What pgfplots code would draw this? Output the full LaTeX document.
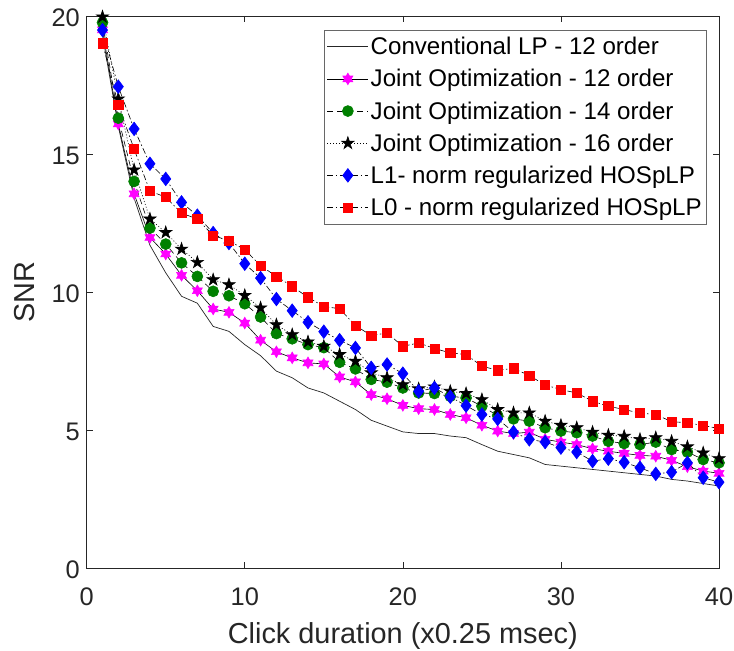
\documentclass[border=0pt]{standalone}
\usepackage{fontspec}
\setmainfont{Liberation Sans}
\usepackage{pgfplots}
\pgfplotsset{compat=1.18}
\usetikzlibrary{plotmarks}

\pgfdeclareplotmark{hexagram}{%
 \pgfpathmoveto{\pgfpointpolar{90}{\pgfplotmarksize}}%
 \pgfpathlineto{\pgfpointpolar{120}{0.577\pgfplotmarksize}}%
 \pgfpathlineto{\pgfpointpolar{150}{\pgfplotmarksize}}%
 \pgfpathlineto{\pgfpointpolar{180}{0.577\pgfplotmarksize}}%
 \pgfpathlineto{\pgfpointpolar{210}{\pgfplotmarksize}}%
 \pgfpathlineto{\pgfpointpolar{240}{0.577\pgfplotmarksize}}%
 \pgfpathlineto{\pgfpointpolar{270}{\pgfplotmarksize}}%
 \pgfpathlineto{\pgfpointpolar{300}{0.577\pgfplotmarksize}}%
 \pgfpathlineto{\pgfpointpolar{330}{\pgfplotmarksize}}%
 \pgfpathlineto{\pgfpointpolar{0}{0.577\pgfplotmarksize}}%
 \pgfpathlineto{\pgfpointpolar{30}{\pgfplotmarksize}}%
 \pgfpathlineto{\pgfpointpolar{60}{0.577\pgfplotmarksize}}%
 \pgfpathclose\pgfusepathqfillstroke}
\pgfdeclareplotmark{pentagram}{%
 \pgfpathmoveto{\pgfpointpolar{90}{\pgfplotmarksize}}%
 \pgfpathlineto{\pgfpointpolar{126}{0.382\pgfplotmarksize}}%
 \pgfpathlineto{\pgfpointpolar{162}{\pgfplotmarksize}}%
 \pgfpathlineto{\pgfpointpolar{198}{0.382\pgfplotmarksize}}%
 \pgfpathlineto{\pgfpointpolar{234}{\pgfplotmarksize}}%
 \pgfpathlineto{\pgfpointpolar{270}{0.382\pgfplotmarksize}}%
 \pgfpathlineto{\pgfpointpolar{306}{\pgfplotmarksize}}%
 \pgfpathlineto{\pgfpointpolar{342}{0.382\pgfplotmarksize}}%
 \pgfpathlineto{\pgfpointpolar{18}{\pgfplotmarksize}}%
 \pgfpathlineto{\pgfpointpolar{54}{0.382\pgfplotmarksize}}%
 \pgfpathclose\pgfusepathqfillstroke}

\definecolor{mgreen}{rgb}{0,0.5,0}
\definecolor{mmag}{rgb}{1,0,1}
\definecolor{axgray}{rgb}{0.15,0.15,0.15}

\pgfplotstableread{
x conv j12 j14 j16 lone lzero
1 19.3 19.5 19.76 19.97 19.49 19.01
2 16.0 16.09 16.30 17.0 17.44 16.78
3 13.4 13.56 14.01 14.43 15.91 15.18
4 11.7 11.98 12.32 12.65 14.65 13.66
5 10.7 11.38 11.74 12.16 14.10 13.44
6 9.85 10.61 11.06 11.56 13.25 12.86
7 9.6 10.05 10.57 11.08 12.77 12.65
8 8.76 9.39 10.03 10.45 12.14 12.05
9 8.58 9.27 9.87 10.27 11.78 11.86
10 8.1 8.88 9.58 9.88 11.03 11.54
11 7.7 8.26 9.10 9.43 10.51 10.96
12 7.14 7.84 8.50 8.82 9.75 10.57
13 6.9 7.62 8.31 8.46 9.33 10.21
14 6.53 7.44 8.10 8.20 8.91 9.81
15 6.35 7.40 7.99 8.04 8.57 9.48
16 6.05 6.93 7.46 7.74 8.26 9.40
17 5.75 6.75 7.22 7.50 7.98 8.79
18 5.36 6.29 6.84 7.08 7.26 8.43
19 5.15 6.14 6.74 6.90 7.38 8.52
20 4.94 5.90 6.53 6.65 7.05 8.04
21 4.88 5.78 6.35 6.50 6.41 8.16
22 4.88 5.75 6.33 6.57 6.53 7.96
23 4.79 5.57 6.23 6.41 6.21 7.80
24 4.73 5.45 6.17 6.33 5.89 7.74
25 4.48 5.18 5.87 6.11 5.57 7.32
26 4.24 4.97 5.53 5.75 5.41 7.17
27 4.12 4.88 5.41 5.63 4.93 7.24
28 4.00 4.93 5.33 5.63 4.67 6.98
29 3.76 4.67 5.09 5.33 4.57 6.64
30 3.70 4.57 4.97 5.18 4.37 6.47
31 3.64 4.48 4.91 5.09 4.21 6.35
32 3.58 4.33 4.79 4.93 3.88 6.05
33 3.52 4.24 4.60 4.82 3.97 5.87
34 3.46 4.16 4.52 4.78 3.84 5.75
35 3.40 4.09 4.48 4.67 3.64 5.62
36 3.34 4.06 4.57 4.73 3.42 5.57
37 3.22 3.91 4.30 4.60 3.48 5.31
38 3.16 3.68 4.21 4.40 3.82 5.27
39 3.07 3.52 3.94 4.18 3.28 5.17
40 2.98 3.44 3.82 3.97 3.12 5.06
}\snrdata

\begin{document}
\begin{tikzpicture}
\begin{axis}[
  scale only axis, width=632.3bp, height=552.3bp,
  xmin=0, xmax=40, ymin=0, ymax=20,
  xtick={0,10,20,30,40}, ytick={0,5,10,15,20},
  tick align=inside, tick pos=both, major tick length=6.5bp,
  axis line style={draw=axgray, line width=0.6bp},
  every tick/.style={axgray, line width=0.6bp},
  /pgf/number format/assume math mode=true,
  tick label style={font=\fontsize{25.5}{25.5}\selectfont, text=axgray},
  xticklabel style={anchor=base, yshift=-36.7bp},
  yticklabel style={xshift=-3.4bp, yshift=-1.5bp},
  xlabel={Click duration (x0.25 msec)},
  ylabel={SNR},
  label style={font=\fontsize{29}{29}\selectfont, text=axgray},
  xlabel style={at={(axis description cs:0.5,-0.1353)}, anchor=base},
  ylabel style={at={(axis description cs:-0.0976,0.5)}, anchor=center},
  legend cell align=left,
  legend style={at={(axis description cs:1,1)}, anchor=north east,
    xshift=-12bp, yshift=-14bp, draw=axgray!70, line width=0.6bp, text=black,
    font=\fontsize{24.2}{24.2}\selectfont, row sep=9.2bp, inner xsep=3bp, inner ysep=5bp},
  legend image code/.code={\draw[mark repeat=2,mark phase=2] plot coordinates {(0bp,0bp) (20.5bp,0bp) (41bp,0bp)};},
]
\addplot[black!85, line width=0.7bp, solid] table[x=x,y=conv] {\snrdata};
\addlegendentry{Conventional LP - 12 order}
\addplot[black, line width=0.6bp, solid, mark=hexagram, mark size=5.8bp, mark options={solid, draw=mmag, fill=mmag}] table[x=x,y=j12] {\snrdata};
\addlegendentry{Joint Optimization - 12 order}
\addplot[black, line width=0.6bp, dash pattern=on 6bp off 4bp, mark=*, mark size=5.5bp, mark options={solid, draw=mgreen, fill=mgreen}] table[x=x,y=j14] {\snrdata};
\addlegendentry{Joint Optimization - 14 order}
\addplot[black, line width=0.6bp, dash pattern=on 1bp off 2bp, mark=pentagram, mark size=6.5bp, mark options={solid, draw=black, fill=black}] table[x=x,y=j16] {\snrdata};
\addlegendentry{Joint Optimization - 16 order}
\addplot[black, line width=0.6bp, dash pattern=on 6bp off 2.5bp on 1.5bp off 2.5bp, mark=diamond*, mark size=6.8bp, mark options={solid, draw=blue, fill=blue}] table[x=x,y=lone] {\snrdata};
\addlegendentry{L1- norm regularized HOSpLP\hspace*{3bp}}
\addplot[black, line width=0.6bp, dash pattern=on 6bp off 2.5bp on 1.5bp off 2.5bp, mark=square*, mark size=4.6bp, mark options={solid, draw=red, fill=red}] table[x=x,y=lzero] {\snrdata};
\addlegendentry{L0 - norm regularized HOSpLP}
\coordinate (sw) at (rel axis cs:0,0);
\coordinate (ne) at (rel axis cs:1,1);
\end{axis}
\pgfresetboundingbox
\path[use as bounding box] ([shift={(-86.7bp,-82.7bp)}]sw) rectangle ([shift={(15bp,16bp)}]ne);
\end{tikzpicture}
\end{document}
